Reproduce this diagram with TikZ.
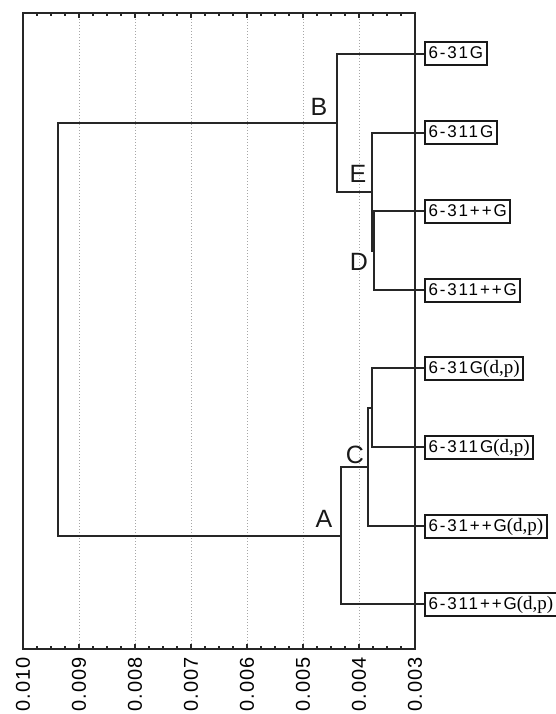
\documentclass[tikz,border=0pt]{standalone}
\usepackage{fontspec}
\setmainfont{Liberation Sans}
\newfontfamily\leaffont[LetterSpace=11]{Liberation Sans}
\newfontfamily\serifpart{Liberation Serif}
\newfontfamily\axisfont[LetterSpace=5]{Liberation Sans}
\newcommand{\dpsuffix}{{\serifpart\fontsize{19}{19}\selectfont(d,p)}}
\tikzset{
  leaf/.style={draw, line width=2pt, anchor=west, inner xsep=3.5pt, inner ysep=0pt,
    minimum height=23pt, text height=12pt, text depth=2pt, draw=black!90,
    font=\leaffont\fontsize{17}{17}\selectfont},
  link/.style={line width=2pt, draw=black!85},
  clus/.style={font=\fontsize{25}{25}\selectfont, inner sep=0pt, text=black!90},
  axislab/.style={rotate=90, anchor=east, inner sep=0pt,
    font=\axisfont\fontsize{20}{20}\selectfont},
  gridline/.style={dotted, draw=black!35, line width=1pt},
  tick/.style={line width=2pt, draw=black!85}
}
\begin{document}
\begin{tikzpicture}[x=1pt,y=-1pt]
  \useasboundingbox (0,0) rectangle (556,714);
  % grid and ticks
  \foreach \i in {1,...,6}
    \draw[gridline] ({23+56*\i},13) -- ({23+56*\i},649);
  \foreach \k in {1,...,27} {
    \draw[tick] ({23+14*\k},13) -- ++(0,3);
    \draw[tick] ({23+14*\k},649) -- ++(0,-3);
  }
  \foreach \i in {1,...,6} {
    \draw[tick] ({23+56*\i},13) -- ++(0,5);
    \draw[tick] ({23+56*\i},649) -- ++(0,-5);
  }
  \draw[line width=2pt, draw=black!85] (23,13) rectangle (415,649);
  % axis labels
  \foreach \lab [count=\i from 0] in {0.010,0.009,0.008,0.007,0.006,0.005,0.004,0.003}
    \node[axislab] (ax\i) at ({23+56*\i},657) {\lab};
  % leaves
  \node[leaf] (l0) at (424,54) {6-31G};
  \node[leaf] (l1) at (424,133) {6-311G};
  \node[leaf] (l2) at (424,211) {6-31++G};
  \node[leaf] (l3) at (424,290) {6-311++G};
  \node[leaf] (l4) at (424,368) {6-31G\dpsuffix};
  \node[leaf] (l5) at (424,447) {6-311G\dpsuffix};
  \node[leaf] (l6) at (424,526) {6-31++G\dpsuffix};
  \node[leaf] (l7) at (424,604) {6-311++G\dpsuffix};
  % merge points
  \coordinate (root) at (58,330);
  \coordinate (B) at (337,123);
  \coordinate (E) at (372,192);
  \coordinate (D) at (374,251);
  \coordinate (F) at (372,408);
  \coordinate (C) at (368,467);
  \coordinate (A) at (341,536);
  \begin{scope}[link]
    \draw (root) |- (B);
    \draw (root) |- (A);
    \draw (B) |- (l0.west);
    \draw (B) |- (E);
    \draw (E) |- (l1.west);
    \draw (E) |- (D);
    \draw (D) |- (l2.west);
    \draw (D) |- (l3.west);
    \draw (A) |- (C);
    \draw (A) |- (l7.west);
    \draw (C) |- (F);
    \draw (C) |- (l6.west);
    \draw (F) |- (l4.west);
    \draw (F) |- (l5.west);
  \end{scope}
  % cluster letters
  \node[clus] (labB) at (319,107) {B};
  \node[clus] (labE) at (358,174) {E};
  \node[clus] (labD) at (359,262) {D};
  \node[clus] (labC) at (355,455) {C};
  \node[clus] (labA) at (324,519) {A};
\end{tikzpicture}
\end{document}
